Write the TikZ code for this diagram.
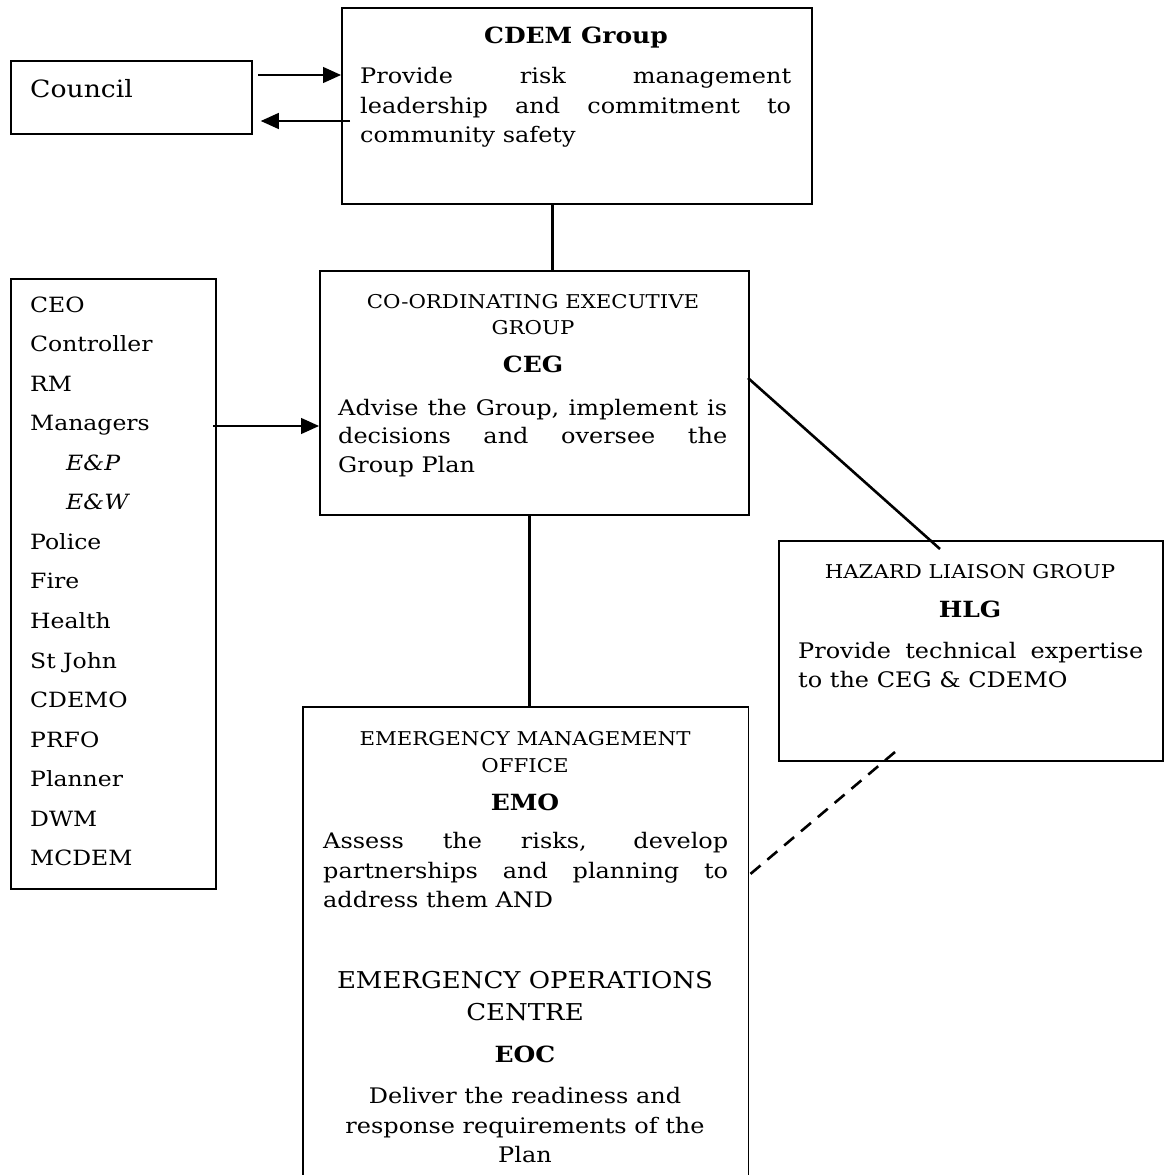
\documentclass[tikz,border=0pt]{standalone}
\usepackage{fontspec}
\setmainfont[FakeStretch=1.12]{DejaVu Serif}
\usetikzlibrary{arrows.meta}
\newcommand\fbody{\fontsize{21.4}{30}\selectfont}
\newcommand\flist{\fontsize{21}{30}\selectfont}
\newcommand\fsmall{\fontsize{19}{24}\selectfont}
\newcommand\fbig{\fontsize{23.2}{28}\selectfont}
\newcommand\fhead{\fontsize{22.3}{28}\selectfont\bfseries}
\newcommand\fcouncil{\fontsize{23.8}{28}\selectfont}
\newcommand\jline[2]{\makebox[#1pt][s]{#2}}
\tikzset{
  box/.style={draw, line width=1.8pt, inner sep=0pt, anchor=north west},
  txt/.style={inner sep=0pt, anchor=base west, font=\fbody},
  ctr/.style={inner sep=0pt, anchor=base},
  thick line/.style={line width=3pt},
  arr/.style={line width=1.3pt, -{Triangle[length=18pt,width=16pt]}},
}
\begin{document}
\begin{tikzpicture}[x=1pt,y=-1pt]
\useasboundingbox (0,0) rectangle (1163,1175);
% boxes
\node[box, minimum width=241pt, minimum height=73pt] (council) at (10,60) {};
\node[box, minimum width=470pt, minimum height=196pt] (cdem) at (341,7) {};
\node[box, minimum width=429pt, minimum height=244pt] (ceg) at (319,270) {};
\node[box, minimum width=205pt, minimum height=610pt] (list) at (10,278) {};
\node[box, minimum width=384pt, minimum height=220pt] (hlg) at (778,540) {};
\node[inner sep=0pt, anchor=north west, minimum width=445pt, minimum height=470pt] (emo) at (303,707) {};
\draw[line width=1.8pt] (emo.south west) -- (emo.north west) -- (emo.north east) -- (emo.south east);
% connectors
\coordinate (a1s) at (258,75);
\coordinate (a2s) at (350,121);
\draw[arr] (a1s) -- (a1s -| cdem.west);
\draw[arr, shorten >=8pt] (a2s) -- (a2s -| council.east);
\draw[thick line] (cdem.south -| 552,0) -- (ceg.north -| 552,0);
\draw[thick line] (ceg.south -| 529,0) -- (emo.north -| 529,0);
\coordinate (d1) at (748,378);
\coordinate (d2) at (940,549);
\draw[line width=2.6pt] (d1) -- (d2);
\coordinate (m1) at (213,426);
\draw[arr] (m1) -- (m1 -| ceg.west);
\coordinate (h1) at (895,752);
\coordinate (h2) at (748,876);
\draw[line width=2.6pt, dash pattern=on 13pt off 9pt] (h1) -- (h2);
% council
\node[txt, font=\fcouncil] (tcouncil) at (30,97) {Council};
% CDEM
\node[ctr, font=\fhead] (tcdem) at (576,43) {CDEM Group};
\node[txt] (cd1) at (360,83) {\jline{431}{Provide risk management}};
\node[txt] (cd2) at (360,113) {\jline{431}{leadership and commitment to}};
\node[txt] (cd3) at (360,142) {community safety};
% CEG
\node[ctr, font=\fsmall] (ce1) at (533,308) {CO-ORDINATING EXECUTIVE};
\node[ctr, font=\fsmall] (ce2) at (533,334) {GROUP};
\node[ctr, font=\fhead] (ce3) at (533,372) {CEG};
\node[txt] (ce4) at (338,415) {\jline{389}{Advise the Group, implement is}};
\node[txt] (ce5) at (338,443) {\jline{389}{decisions and oversee the}};
\node[txt] (ce6) at (338,472) {Group Plan};
% HLG
\node[ctr, font=\fsmall] (hl1) at (970,578) {HAZARD LIAISON GROUP};
\node[ctr, font=\fhead] (hl2) at (970,617) {HLG};
\node[txt] (hl3) at (798,658) {\jline{345}{Provide technical expertise}};
\node[txt] (hl4) at (798,687) {to the CEG \& CDEMO};
% EMO
\node[ctr, font=\fsmall] (em1) at (525,745) {EMERGENCY MANAGEMENT};
\node[ctr, font=\fsmall] (em2) at (525,772) {OFFICE};
\node[ctr, font=\fhead] (em3) at (525,810) {EMO};
\node[txt] (em4) at (323,848) {\jline{405}{Assess the risks, develop}};
\node[txt] (em5) at (323,878) {\jline{405}{partnerships and planning to}};
\node[txt] (em6) at (323,907) {address them AND};
\node[ctr, font=\fbig] (eo1) at (525,988) {EMERGENCY OPERATIONS};
\node[ctr, font=\fbig] (eo2) at (525,1020) {CENTRE};
\node[ctr, font=\fhead] (eo3) at (525,1062) {EOC};
\node[ctr, font=\fbody] (eo4) at (525,1103) {Deliver the readiness and};
\node[ctr, font=\fbody] (eo5) at (525,1133) {response requirements of the};
\node[ctr, font=\fbody] (eo6) at (525,1162) {Plan};
% list
\foreach \t [count=\i from 0] in {CEO,Controller,RM,Managers,,,Police,Fire,Health,St John,CDEMO,PRFO,Planner,DWM,MCDEM}{
  \node[txt, font=\flist] (l\i) at (30,312+39.57*\i) {\t};
}
\node[txt, font=\flist\itshape] (lep) at (66,312+39.57*4) {E\&P};
\node[txt, font=\flist\itshape] (lew) at (66,312+39.57*5) {E\&W};
\end{tikzpicture}
\end{document}
